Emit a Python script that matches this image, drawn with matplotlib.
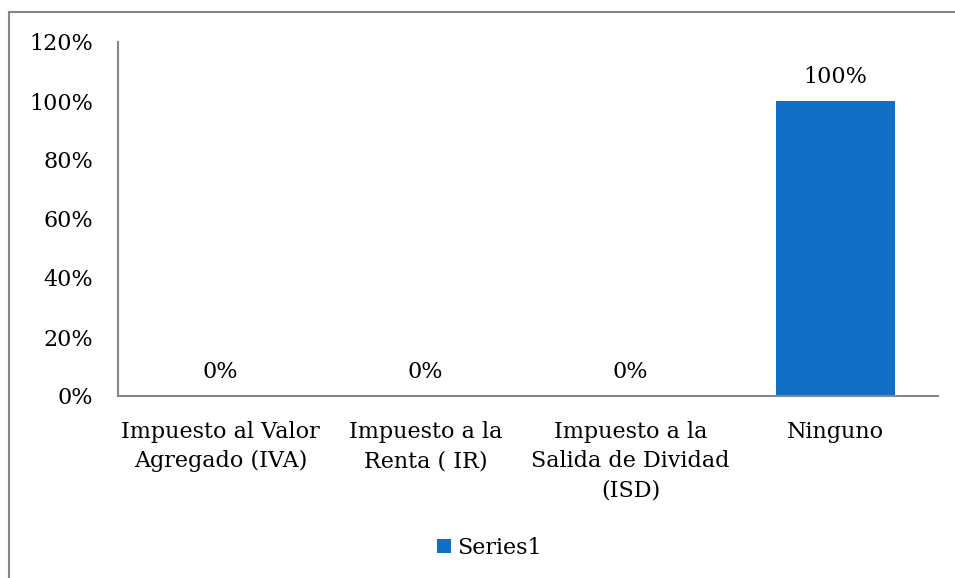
import matplotlib.pyplot as plt
import matplotlib.patches as patches

# datos
categorias = ['Impuesto al Valor\nAgregado (IVA)', 'Impuesto a la\nRenta ( IR)',
              'Impuesto a la\nSalida de Dividad\n(ISD)', 'Ninguno']
valores = [0.0, 0.0, 0.0, 1.0]
etiquetas_y = ['0%', '20%', '40%', '60%', '80%', '100%', '120%']
serie = 'Series1'

plt.rcParams['font.family'] = ['DejaVu Serif']
fig = plt.figure(figsize=(9.55, 5.78), dpi=100)
ax = fig.add_axes([118 / 955, 1 - 396 / 578, 820 / 955, 354 / 578])

x = range(len(categorias))
barras = ax.bar(x, valores, width=0.576, color='#1170C6', label=serie)
for xi, v in zip(x, valores):
    ax.annotate(f'{v:.0%}', (xi, v), xytext=(0, 17.5), textcoords='offset points',
                ha='center', va='center', fontsize=16)

ax.set_xlim(-0.5, len(categorias) - 0.5)
ax.set_ylim(0, 1.2)
ax.set_yticks([i * 0.2 for i in range(len(etiquetas_y))])
ax.set_yticklabels(etiquetas_y, fontsize=16)
ax.set_xticks(list(x))
ax.set_xticklabels(categorias, fontsize=16, linespacing=1.42, va='top')
ax.tick_params(length=0)
ax.tick_params(axis='y', pad=18)
ax.tick_params(axis='x', pad=18)
for s in ['top', 'right']:
    ax.spines[s].set_visible(False)
for s in ['left', 'bottom']:
    ax.spines[s].set_color('#868686')
    ax.spines[s].set_linewidth(1.5)

ax.legend(loc='center', bbox_to_anchor=(0.5 + 12 / 955, 1 - 548 / 578), bbox_transform=fig.transFigure,
          frameon=False, fontsize=16, handlelength=0.6, handleheight=0.6, handletextpad=0.3)

# marco exterior del gráfico
fig.patches.append(patches.Rectangle((9 / 955, -0.1), 1.2, 1 - 12 / 578 + 0.1,
                                     transform=fig.transFigure, fill=False,
                                     edgecolor='#868686', linewidth=1.5))

fig.savefig('out.png', dpi=100)
